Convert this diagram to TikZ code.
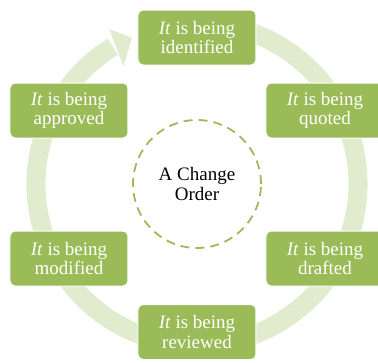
\documentclass[tikz,border=0pt]{standalone}
\usepackage{fontspec}
\setmainfont{Liberation Serif}
\usepackage{tikz}
\usetikzlibrary{positioning}
\definecolor{oliivi}{HTML}{9BBB59}

\begin{document}
\begin{tikzpicture} [on grid, every node/.style={font=\fontsize{19}{19.5}\selectfont, align=center},
                    vaihe/.style={rectangle,rounded corners=5pt,fill=oliivi,draw=white,line width=1pt,text=white,
                                  minimum width=118pt,minimum height=55pt,inner sep=0pt},
                    keskus/.style={circle,draw=oliivi,line width=1.8pt,dash pattern=on 9pt off 6pt,minimum size=128pt},
                    rengas/.style={draw=oliivi!30,line width=19pt}]
\useasboundingbox (-197pt,-178pt) rectangle (181pt,184pt);

\node[keskus] (0) {A Change\\Order};

% the cycle behind the boxes
\draw[rengas] (0.center) ++(80:161pt) arc[start angle=80, end angle=-238.5, radius=161pt];
\fill[oliivi!30] ([shift={(122:139pt)}]0.center) -- ([shift={(114:160pt)}]0.center)
                 -- ([shift={(119.5:178pt)}]0.center) -- cycle;

\node[vaihe] (1) [above=146.5pt of 0] {\textit{It} is being\\identified};
\node[vaihe] (2) [above right=73.5pt and 128pt of 0] {\textit{It} is being\\quoted};
\node[vaihe] (3) [below right=74.5pt and 128pt of 0] {\textit{It} is being\\drafted};
\node[vaihe] (4) [below=148pt of 0] {\textit{It} is being\\reviewed};
\node[vaihe] (5) [below left=74.5pt and 128pt of 0] {\textit{It} is being\\modified};
\node[vaihe] (6) [above left=73.5pt and 128pt of 0] {\textit{It} is being\\approved};
\end{tikzpicture}
\end{document}
